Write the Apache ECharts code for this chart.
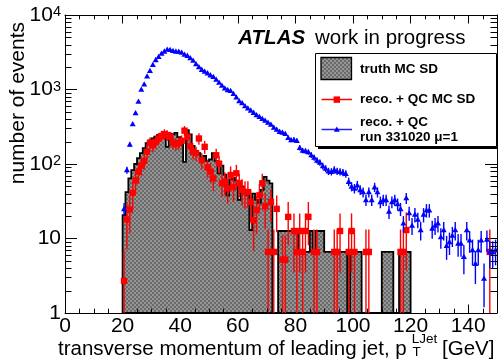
<!DOCTYPE html>
<html>
<head>
<meta charset="utf-8">
<script src="https://cdn.jsdelivr.net/npm/echarts@6/dist/echarts.min.js"></script>
<style>
html, body { margin: 0; padding: 0; background: #fff; }
#chart { width: 498px; height: 364px; }
</style>
</head>
<body>
<div id="chart"></div>
<script>
// 1 GeV bins, first bin starts at 20 GeV
const binStart = 20
const binWidth = 1

// truth MC SD histogram, bins 20..120 GeV
const truthValues = [
  20.6, 42, 64, 83, 100, 120, 140, 163, 190, 208,
  220, 232, 245, 250, 245, 170, 255, 250, 262, 230,
  215, 107, 285, 250, 175, 150, 140, 120, 128, 110,
  115, 140, 110, 75, 95, 72, 38, 62, 65, 60,
  33, 50, 42, 38, 13, 40, 33, 30, 45, 67,
  60, 55, 0, 0, 12.6, 12.6, 12.6, 12.6, 12.6, 12.6,
  12.6, 6.6, 6.6, 6.6, 6.6, 12.6, 6.6, 12.6, 12.6, 12.6,
  6.6, 6.6, 6.6, 6.6, 6.6, 6.6, 6.6, 6.6, 0, 6.6,
  6.6, 6.6, 6.6, 0, 0, 0, 0, 0, 0, 0,
  6.6, 6.6, 6.6, 6.6, 0, 0, 6.6, 6.6, 6.6, 6.6
]

// reco. + QC MC SD, bins 20..150 GeV (null = empty bin)
const recoMcValues = [
  2.7, 18, 24.5, 41, 60, 79, 95, 110, 146, 192,
  178, 198, 220, 238, 252, 244, 232, 192, 185, 192,
  205, 280, 232, 173, 146, 140, 220, 112, 170, 90,
  79, 64, 131, 101, 55, 58, 47, 71, 49, 75,
  55, 45, 42, 42, 31, 17.6, 24, 38, 55, 27,
  6.6, 31, 6.6, 25, null, 5.2, 5.2, 19.5, null, 12.6,
  6.6, 12.6, 6.6, 12.6, 19.5, null, 6.6, 6.6, null, null,
  null, null, null, 6.6, 6.6, 12.6, null, null, 6.6, 12.6,
  6.6, null, null, null, 6.6, 6.6, null, null, null, null,
  null, null, null, null, null, null, 6.6, 6.6, 13, null,
  null, null, null, null, null, null, null, null, null, null,
  null, null, null, null, null, null, null, null, null, null,
  null, null, null, null, null, null, null, 6.6, null, null
]

// reco. + QC, run 331020 mu=1, bins 20..150 GeV
const recoDataValues = [
  25, 83, 183, 344, 485, 690, 1000, 1180, 1510, 1790,
  2150, 2500, 2750, 3050, 3250, 3450, 3420, 3320, 3250, 3230,
  3150, 2950, 2850, 2650, 2450, 2200, 2000, 1850, 1750, 1660,
  1560, 1480, 1360, 1240, 1130, 1040, 990, 960, 880, 790,
  700, 660, 600, 560, 525, 490, 455, 430, 405, 385,
  360, 340, 310, 290, 272, 265, 255, 225, 210, 212,
  205, 165, 152, 150, 145, 132, 122, 112, 105, 94,
  87, 80, 79, 84, 80, 79, 77, 74, 58, 50,
  47, 52, 45, 42, 33, 42, 33, 49, 42, 31,
  33, 33, 23, 31, 33, 29, 25, 16, 35, 22,
  15, 21, 18, 13, 21, 24, 24, 13.6, 15, 16,
  10.5, 13, 8, 9, 11, 13, 8.6, 8.6, 5.7, 13,
  9.5, 7, 4.6, 7, 9.5, 2.9, 9.7, 6.6, 6.6, 7
]

const mcWeight = 6.6   // per-event weight of the MC sample (for error bars)
const xMin = 0
const xMax = 150
const xMajor = 20
const xMinorStep = 5
const yMin = 1
const yMax = 10000
const yDecades = [1, 10, 100, 1000]
const yMinorSteps = [2, 3, 4, 5, 6, 7, 8, 9]

const font = '"Liberation Sans", Arial, Helvetica, sans-serif'

function makeChecker() {
  const c = document.createElement('canvas')
  c.width = 4
  c.height = 4
  const ctx = c.getContext('2d')
  ctx.fillStyle = '#959595'
  ctx.fillRect(0, 0, 4, 4)
  ctx.fillStyle = '#6a6a6a'
  ctx.fillRect(0, 0, 2, 2)
  ctx.fillRect(2, 2, 2, 2)
  return c
}
const checker = { image: makeChecker(), repeat: 'repeat' }

const histData = truthValues.map((v, i) => [binStart + i * binWidth, binStart + (i + 1) * binWidth, v])

function pointData(values) {
  const out = []
  values.forEach((v, i) => {
    if (v != null) out.push([binStart + (i + 0.5) * binWidth, v])
  })
  return out
}

const yMinorTicks = []
yDecades.forEach(d => yMinorSteps.forEach(s => yMinorTicks.push(d * s)))
const xMinorTicks = []
for (let t = xMin + xMinorStep; t < xMax; t += xMinorStep) {
  if (t % xMajor !== 0) xMinorTicks.push(t)
}

// whole histogram drawn as one outlined polygon
function renderHist(params, api) {
  if (params.dataIndexInside !== 0) return
  const n = params.dataInsideLength
  const first = api.coord([api.value(0, 0), yMin])
  const pts = [first]
  for (let i = 0; i < n; i++) {
    const v = Math.max(api.value(2, i), yMin)
    pts.push(api.coord([api.value(0, i), v]))
    pts.push(api.coord([api.value(1, i), v]))
  }
  pts.push([pts[pts.length - 1][0], first[1]])
  return {
    type: 'polygon',
    shape: { points: pts },
    style: { fill: checker, stroke: '#000', lineWidth: 1.8, lineJoin: 'miter' }
  }
}

function renderPoints(color, marker, weight) {
  return function (params, api) {
    const x = api.value(0)
    const v = api.value(1)
    const err = Math.sqrt(v * weight)
    const p = api.coord([x, v])
    const hi = api.coord([x, v + err])
    const lo = api.coord([x, Math.max(v - err, yMin)])
    const children = [{
      type: 'line',
      shape: { x1: p[0], y1: hi[1], x2: p[0], y2: lo[1] },
      style: { stroke: color, lineWidth: 1.4 }
    }]
    if (marker === 'square') {
      children.push({ type: 'rect', shape: { x: p[0] - 3.2, y: p[1] - 3.2, width: 6.4, height: 6.4 }, style: { fill: color } })
    } else {
      children.push({
        type: 'polygon',
        shape: { points: [[p[0], p[1] - 3], [p[0] - 3, p[1] + 2.3], [p[0] + 3, p[1] + 2.3]] },
        style: { fill: color }
      })
    }
    return { type: 'group', children: children }
  }
}

function renderYMinor(params, api) {
  const v = api.value(1)
  const l = api.coord([xMin, v])
  const r = api.coord([xMax, v])
  const y = Math.round(l[1]) + 0.5
  return {
    type: 'group',
    children: [
      { type: 'line', shape: { x1: l[0], y1: y, x2: l[0] + 6.5, y2: y }, style: { stroke: '#000', lineWidth: 1 } },
      { type: 'line', shape: { x1: r[0] - 6.5, y1: y, x2: r[0], y2: y }, style: { stroke: '#000', lineWidth: 1 } }
    ]
  }
}

function renderXMinor(params, api) {
  const t = api.value(0)
  const b = api.coord([t, yMin])
  const tp = api.coord([t, yMax])
  const x = Math.round(b[0]) + 0.5
  return {
    type: 'group',
    children: [
      { type: 'line', shape: { x1: x, y1: b[1], x2: x, y2: b[1] - 4.3 }, style: { stroke: '#000', lineWidth: 1 } },
      { type: 'line', shape: { x1: x, y1: tp[1], x2: x, y2: tp[1] + 4.3 }, style: { stroke: '#000', lineWidth: 1 } }
    ]
  }
}

function xAxisOpt(position, labels) {
  return {
    type: 'value',
    position: position,
    min: xMin,
    max: xMax,
    interval: xMajor,
    axisLine: { show: true, onZero: false, lineStyle: { color: '#000', width: 1 } },
    axisTick: { show: true, inside: true, length: 8.5, lineStyle: { color: '#000' } },
    axisLabel: {
      show: labels,
      margin: 3,
      color: '#000',
      fontFamily: font,
      fontSize: 21,
      showMaxLabel: false
    },
    splitLine: { show: false }
  }
}

function yAxisOpt(position, labels) {
  return {
    type: 'log',
    logBase: 10,
    position: position,
    min: yMin,
    max: yMax,
    axisLine: { show: true, onZero: false, lineStyle: { color: '#000', width: 1 } },
    axisTick: { show: true, inside: true, length: 12, lineStyle: { color: '#000' } },
    axisLabel: {
      show: labels,
      margin: 4,
      color: '#000',
      fontFamily: font,
      fontSize: 21,
      formatter: function (v) {
        if (v < 100) return String(Math.round(v))
        return '{b|10}{s|' + Math.round(Math.log10(v)) + '}'
      },
      rich: {
        b: { fontFamily: font, fontSize: 21, color: '#000' },
        s: { fontFamily: font, fontSize: 14.5, color: '#000', verticalAlign: 'top' }
      }
    },
    splitLine: { show: false }
  }
}

const chart = echarts.init(document.getElementById('chart'))

chart.setOption({
  animation: false,
  backgroundColor: '#fff',
  textStyle: { fontFamily: font },
  grid: { left: 65, right: 1, top: 15, bottom: 51 },
  xAxis: [xAxisOpt('bottom', true), xAxisOpt('top', false)],
  yAxis: [yAxisOpt('left', true), yAxisOpt('right', false)],
  series: [
    { type: 'custom', name: 'truth MC SD', renderItem: renderHist, data: histData, encode: { x: [0, 1], y: 2 }, z: 1 },
    { type: 'custom', name: 'reco. + QC MC SD', renderItem: renderPoints('#ff0000', 'square', mcWeight), data: pointData(recoMcValues), encode: { x: 0, y: 1 }, z: 3 },
    { type: 'custom', name: 'reco. + QC run 331020', renderItem: renderPoints('#0000ff', 'triangle', 1), data: pointData(recoDataValues), encode: { x: 0, y: 1 }, z: 4 },
    { type: 'custom', silent: true, renderItem: renderYMinor, data: yMinorTicks.map(v => [xMin, v]), encode: { x: 0, y: 1 }, z: 5 },
    { type: 'custom', silent: true, renderItem: renderXMinor, data: xMinorTicks.map(t => [t, yMin]), encode: { x: 0, y: 1 }, z: 5 }
  ],
  graphic: [
    // axis titles
    { type: 'text', x: 17.8, y: 22, rotation: Math.PI / 2, z: 100,
      style: { text: 'number of events', font: '21px ' + font, fill: '#000', textAlign: 'right', align: 'right', textVerticalAlign: 'middle', verticalAlign: 'middle' } },
    { type: 'text', x: 406.7, y: 349, z: 100,
      style: { text: 'transverse momentum of leading jet, p', font: '20.5px ' + font, fill: '#000', textAlign: 'right', align: 'right', textVerticalAlign: 'middle', verticalAlign: 'middle' } },
    { type: 'text', x: 412.5, y: 352, z: 100,
      style: { text: 'T', font: '13.5px ' + font, fill: '#000', textVerticalAlign: 'middle', verticalAlign: 'middle' } },
    { type: 'text', x: 411.7, y: 339.5, z: 100,
      style: { text: 'LJet', font: '13.5px ' + font, fill: '#000', textVerticalAlign: 'middle', verticalAlign: 'middle' } },
    { type: 'text', x: 442, y: 349, z: 100,
      style: { text: '[GeV]', font: '20.5px ' + font, fill: '#000', textVerticalAlign: 'middle', verticalAlign: 'middle' } },
    // ATLAS label
    { type: 'text', x: 238.3, y: 38.2, z: 100,
      style: { text: 'ATLAS', font: 'italic bold 20.5px ' + font, fill: '#000', textVerticalAlign: 'middle', verticalAlign: 'middle' } },
    { type: 'text', x: 315, y: 38.2, z: 100,
      style: { text: 'work in progress', font: '20.5px ' + font, fill: '#000', textVerticalAlign: 'middle', verticalAlign: 'middle' } },
    // legend box with shadow
    { type: 'rect', z: 100, shape: { x: 318, y: 56, width: 182, height: 93 }, style: { fill: '#000' } },
    { type: 'rect', z: 101, shape: { x: 315.5, y: 53.5, width: 181, height: 93 }, style: { fill: '#fff', stroke: '#000', lineWidth: 1 } },
    { type: 'rect', z: 102, shape: { x: 321, y: 57.5, width: 30.5, height: 22 }, style: { fill: checker, stroke: '#000', lineWidth: 1.3 } },
    { type: 'line', z: 102, shape: { x1: 321.5, y1: 99.5, x2: 352, y2: 99.5 }, style: { stroke: '#ff0000', lineWidth: 1.5 } },
    { type: 'rect', z: 103, shape: { x: 333.6, y: 96.4, width: 6.4, height: 6.4 }, style: { fill: '#ff0000' } },
    { type: 'line', z: 102, shape: { x1: 321.5, y1: 129.5, x2: 352, y2: 129.5 }, style: { stroke: '#2020ff', lineWidth: 1.5 } },
    { type: 'polygon', z: 103, shape: { points: [[336.8, 126.5], [333.8, 131.8], [339.8, 131.8]] }, style: { fill: '#0000ff' } },
    { type: 'text', x: 360, y: 69.5, z: 103,
      style: { text: 'truth MC SD', font: 'bold 13.5px ' + font, fill: '#000', textVerticalAlign: 'middle', verticalAlign: 'middle' } },
    { type: 'text', x: 360, y: 99.5, z: 103,
      style: { text: 'reco. + QC MC SD', font: 'bold 13.5px ' + font, fill: '#000', textVerticalAlign: 'middle', verticalAlign: 'middle' } },
    { type: 'text', x: 360, y: 122, z: 103,
      style: { text: 'reco. + QC', font: 'bold 13.5px ' + font, fill: '#000', textVerticalAlign: 'middle', verticalAlign: 'middle' } },
    { type: 'text', x: 360, y: 137, z: 103,
      style: { text: 'run 331020 \u03bc=1', font: 'bold 13.5px ' + font, fill: '#000', textVerticalAlign: 'middle', verticalAlign: 'middle' } }
  ]
})
</script>
</body>
</html>
